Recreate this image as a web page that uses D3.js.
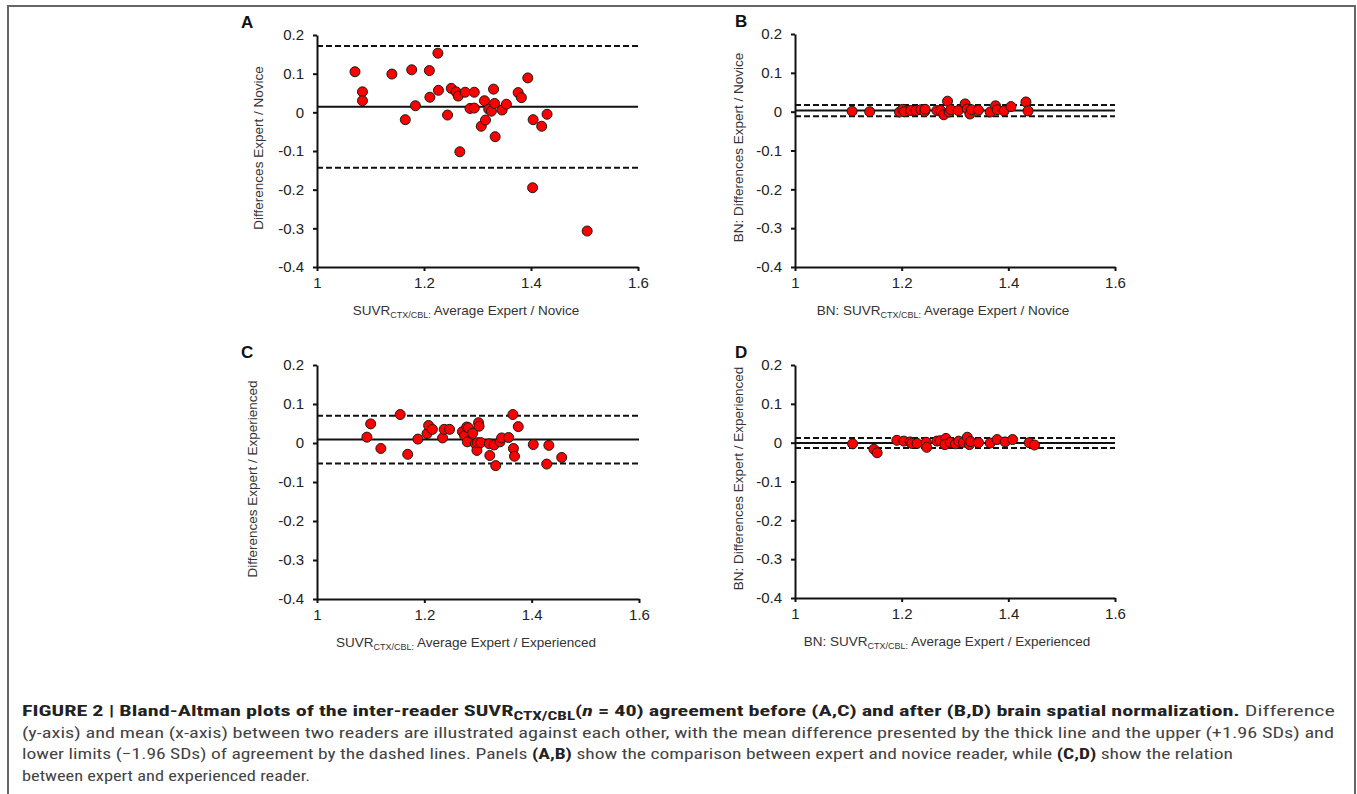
<!DOCTYPE html>
<html>
<head>
<meta charset="utf-8">
<script src="https://cdn.jsdelivr.net/npm/d3@7"></script>
<style>
    body { margin: 0; background: #fff; }
    text { font-family: "Liberation Sans", Arial, sans-serif; }
</style>
</head>
<body>
<svg id="fig" width="1357" height="794"></svg>
<script>
"use strict";

// тики осей
var aXTicks = [1, 1.2, 1.4, 1.6];
var aYTicks = [0.2, 0.1, 0, -0.1, -0.2, -0.3, -0.4];

// A: эксперт / новичок
var aAvgA = [1.071, 1.085, 1.085, 1.140, 1.177, 1.165, 1.184, 1.210, 1.226, 1.211, 1.227, 1.244, 1.251, 1.260, 1.264, 1.267, 1.277, 1.286, 1.294, 1.294, 1.307, 1.313, 1.315, 1.321, 1.326, 1.330, 1.332, 1.333, 1.346, 1.354, 1.376, 1.382, 1.394, 1.404, 1.403, 1.420, 1.430, 1.505];
var aDiffA = [0.105, 0.053, 0.030, 0.099, 0.110, -0.019, 0.017, 0.108, 0.153, 0.039, 0.057, -0.007, 0.062, 0.053, 0.042, -0.102, 0.052, 0.010, 0.052, 0.011, -0.036, 0.030, -0.020, 0.008, 0.003, 0.060, 0.023, -0.063, 0.006, 0.021, 0.051, 0.038, 0.089, -0.019, -0.195, -0.036, -0.005, -0.307];
var aLimitsA = [0.0144, 0.1716, -0.1436];

// B: BN эксперт / новичок
var aAvgB = [1.107, 1.140, 1.196, 1.202, 1.205, 1.217, 1.227, 1.236, 1.243, 1.244, 1.266, 1.273, 1.279, 1.286, 1.289, 1.292, 1.306, 1.319, 1.323, 1.328, 1.331, 1.344, 1.366, 1.376, 1.379, 1.392, 1.405, 1.433, 1.437];
var aDiffB = [0.001, 0.000, -0.001, 0.006, 0.000, 0.003, 0.003, 0.005, 0.000, 0.006, 0.003, 0.003, -0.008, 0.027, -0.001, 0.005, 0.003, 0.020, 0.007, -0.006, 0.005, 0.004, -0.001, 0.015, 0.005, 0.002, 0.013, 0.025, 0.002];
var aLimitsB = [0.003, 0.0174, -0.0117];

// C: эксперт / опытный
var aAvgC = [1.093, 1.100, 1.119, 1.155, 1.169, 1.188, 1.205, 1.208, 1.215, 1.234, 1.237, 1.247, 1.271, 1.275, 1.279, 1.282, 1.280, 1.290, 1.295, 1.298, 1.299, 1.301, 1.302, 1.305, 1.321, 1.322, 1.330, 1.333, 1.341, 1.344, 1.357, 1.365, 1.366, 1.368, 1.375, 1.403, 1.432, 1.428, 1.456];
var aDiffC = [0.015, 0.049, -0.014, 0.073, -0.029, 0.010, 0.024, 0.045, 0.035, 0.013, 0.035, 0.035, 0.029, 0.019, 0.041, 0.039, 0.003, 0.025, -0.002, -0.019, 0.001, 0.052, 0.043, 0.001, -0.002, -0.032, -0.005, -0.058, 0.003, 0.013, 0.014, 0.073, -0.014, -0.034, 0.042, -0.004, -0.006, -0.054, -0.037];
var aLimitsC = [0.0092, 0.070, -0.0525];

// D: BN эксперт / опытный
var aAvgD = [1.108, 1.148, 1.154, 1.191, 1.204, 1.216, 1.219, 1.229, 1.246, 1.247, 1.266, 1.272, 1.283, 1.281, 1.291, 1.301, 1.307, 1.316, 1.323, 1.327, 1.329, 1.344, 1.366, 1.379, 1.394, 1.408, 1.439, 1.449];
var aDiffD = [-0.003, -0.017, -0.026, 0.006, 0.004, 0.002, -0.002, -0.002, 0.001, -0.012, 0.004, 0.005, 0.011, -0.005, 0.001, -0.003, 0.004, 0.001, 0.014, -0.005, 0.003, 0.000, -0.001, 0.008, 0.002, 0.008, 0.000, -0.006];
var aLimitsD = [-0.001, 0.012, -0.014];

// подписи
var aLetters = ["A", "B", "C", "D"];
var aYTitles = ["Differences Expert / Novice", "BN: Differences Expert / Novice", "Differences Expert / Experienced", "BN: Differences Expert / Experienced"];
var aXTitlesPre = ["SUVR", "BN: SUVR", "SUVR", "BN: SUVR"];
var aXTitlesPost = [" Average Expert / Novice", " Average Expert / Novice", " Average Expert / Experienced", " Average Expert / Experienced"];

var svg = d3.select("#fig");

// рамка
svg.append("path")
    .attr("d", "M8,794 V6 H1355 V794")
    .attr("fill", "none")
    .attr("stroke", "#666")
    .attr("stroke-width", 2);

var aPanels = [
    { x0: 317, x1: 638, y0: 35, y1: 267, avg: aAvgA, diff: aDiffA, lim: aLimitsA, lx: 241, yt: 258, xt: 466 },
    { x0: 795, x1: 1115, y0: 34, y1: 267, avg: aAvgB, diff: aDiffB, lim: aLimitsB, lx: 735, yt: 738, xt: 943 },
    { x0: 317, x1: 639, y0: 365, y1: 599, avg: aAvgC, diff: aDiffC, lim: aLimitsC, lx: 241, yt: 252, xt: 466 },
    { x0: 795, x1: 1115, y0: 365, y1: 598, avg: aAvgD, diff: aDiffD, lim: aLimitsD, lx: 735, yt: 738, xt: 947 }
];

aPanels.forEach(function(p, i) {
    var xScale = d3.scaleLinear().domain([1, 1.6]).range([p.x0, p.x1]);
    var yScale = d3.scaleLinear().domain([-0.4, 0.2]).range([p.y1, p.y0]);
    var g = svg.append("g");

    // линии среднего и пределов
    p.lim.forEach(function(v, k) {
        g.append("line")
            .attr("x1", xScale(1)).attr("x2", xScale(1.6))
            .attr("y1", yScale(v)).attr("y2", yScale(v))
            .attr("stroke", "#111")
            .attr("stroke-width", 2)
            .attr("stroke-dasharray", k === 0 ? null : "6,3");
    });

    // оси
    var gy = g.append("g")
        .attr("transform", "translate(" + p.x0 + ",0)")
        .call(d3.axisLeft(yScale).tickValues(aYTicks).tickSize(4).tickSizeOuter(0).tickPadding(9).tickFormat(String));
    var gx = g.append("g")
        .attr("transform", "translate(0," + p.y1 + ")")
        .call(d3.axisBottom(xScale).tickValues(aXTicks).tickSize(4).tickSizeOuter(0).tickPadding(6).tickFormat(String));
    [gx, gy].forEach(function(ax) {
        ax.selectAll("path, line").attr("stroke", "#111").attr("stroke-width", 2);
        ax.selectAll("text")
            .attr("fill", "#222")
            .style("font-size", "15px")
            .style("font-family", "'Liberation Sans', Arial, sans-serif");
    });

    // точки
    g.selectAll("circle")
        .data(p.avg)
        .enter().append("circle")
        .attr("cx", function(d) { return xScale(d); })
        .attr("cy", function(d, k) { return yScale(p.diff[k]); })
        .attr("r", 5)
        .attr("fill", "#f00")
        .attr("stroke", "#1a1a1a")
        .attr("stroke-width", 1);

    // буква панели
    g.append("text")
        .attr("x", p.lx).attr("y", p.y0 - 7)
        .attr("font-weight", "bold")
        .attr("font-size", 17)
        .attr("fill", "#111")
        .text(aLetters[i]);

    // подпись y
    g.append("text")
        .attr("transform", "translate(" + p.yt + "," + ((p.y0 + p.y1) / 2 - 3) + ") rotate(-90)")
        .attr("text-anchor", "middle")
        .attr("dy", "0.35em")
        .attr("font-size", 13.5)
        .attr("fill", "#333")
        .text(aYTitles[i]);

    // подпись x
    var xt = g.append("text")
        .attr("x", p.xt).attr("y", p.y1 + 48)
        .attr("text-anchor", "middle")
        .attr("font-size", 13.5)
        .attr("fill", "#333");
    xt.append("tspan").text(aXTitlesPre[i]);
    xt.append("tspan").attr("font-size", 9).attr("dy", 3).text("CTX/CBL:");
    xt.append("tspan").attr("dy", -3).text(aXTitlesPost[i]);
});

// подпись рисунка
var sCapFont = "'Liberation Sans Narrow', 'Roboto Condensed', 'Arial Narrow', 'Liberation Sans', sans-serif";
var aCaption = [
    { y: 716, w: 1313, parts: [
        ["b", "FIGURE 2 | Bland-Altman plots of the inter-reader SUVR"],
        ["bs", "CTX/CBL"],
        ["bu", "("], ["bi", "n"], ["b", " = 40) agreement before (A,C) and after (B,D) brain spatial normalization."],
        ["r", " Difference"]] },
    { y: 738, w: 1312, parts: [
        ["r", "(y-axis) and mean (x-axis) between two readers are illustrated against each other, with the mean difference presented by the thick line and the upper (+1.96 SDs) and"]] },
    { y: 759, w: 1211, parts: [
        ["r", "lower limits (\u22121.96 SDs) of agreement by the dashed lines. Panels "], ["b", "(A,B)"],
        ["r", " show the comparison between expert and novice reader, while "], ["b", "(C,D)"],
        ["r", " show the relation"]] },
    { y: 781, w: 288, parts: [
        ["r", "between expert and experienced reader."]] }
];

aCaption.forEach(function(line) {
    var t = svg.append("text")
        .attr("x", 22).attr("y", line.y)
        .attr("font-size", 15.5)
        .attr("textLength", line.w)
        .attr("lengthAdjust", "spacingAndGlyphs")
        .style("font-family", sCapFont);
    line.parts.forEach(function(part) {
        var s = t.append("tspan").text(part[1]);
        var sType = part[0];
        if (sType[0] === "b") s.attr("font-weight", "bold").attr("fill", "#222");
        else s.attr("fill", "#444");
        if (sType === "bs") s.attr("font-size", 12).attr("dy", 4);
        if (sType === "bu") s.attr("dy", -4);
        if (sType === "bi") s.attr("font-style", "italic");
    });
});
</script>
</body>
</html>
